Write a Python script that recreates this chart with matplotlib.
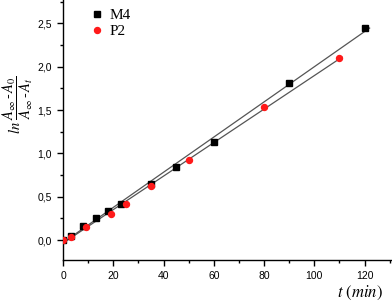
import matplotlib
matplotlib.use("Agg")
import matplotlib.pyplot as plt
import numpy as np
from matplotlib.ticker import MultipleLocator, FuncFormatter

m4_t = [0, 3, 8, 13, 18, 23, 35, 45, 60, 90, 120]
m4_y = [0.0, 0.05, 0.16, 0.25, 0.34, 0.42, 0.65, 0.84, 1.13, 1.81, 2.45]
p2_t = [0, 3, 9, 19, 25, 35, 50, 80, 110]
p2_y = [0.0, 0.04, 0.15, 0.30, 0.42, 0.62, 0.92, 1.53, 2.10]
labels = ["M4", "P2"]

plt.rcParams['mathtext.fontset'] = 'stix'
fig = plt.figure(figsize=(3.92, 3.02), dpi=100)
ax = fig.add_axes([63/392, 42/302, 328/392, 260/302])

for t, y, ext in [(m4_t, m4_y, 122), (p2_t, p2_y, 111)]:
    k, b = np.polyfit(t, y, 1)
    xs = np.array([0, ext])
    ax.plot(xs, k*xs + b, color='#555555', lw=0.9, zorder=1)

ax.plot(m4_t, m4_y, 's', color='black', ms=4, label=labels[0], zorder=3, linestyle='none')
ax.plot(p2_t, p2_y, 'o', color='#ff1a1a', ms=4.3, label=labels[1], zorder=3, linestyle='none')

ax.set_xlim(0, 130.5)
ax.set_ylim(-0.23, 2.77)
for s in ['top', 'right']:
    ax.spines[s].set_visible(False)
for s in ['left', 'bottom']:
    ax.spines[s].set_linewidth(1.0)
ax.xaxis.set_major_locator(MultipleLocator(20))
ax.xaxis.set_minor_locator(MultipleLocator(10))
ax.yaxis.set_major_locator(MultipleLocator(0.5))
ax.yaxis.set_minor_locator(MultipleLocator(0.25))
ax.yaxis.set_major_formatter(FuncFormatter(lambda v, p: f"{v:.1f}".replace('.', ',')))
ax.tick_params(which='major', length=4, width=1, direction='out', labelsize=7.5, pad=4)
ax.tick_params(which='minor', length=2, width=1, direction='out')
for lab in ax.get_xticklabels() + ax.get_yticklabels():
    lab.set_fontfamily('Liberation Sans')

ax.legend(loc='upper left', bbox_to_anchor=(0.038, 1.02), frameon=False,
          prop={'family': 'Liberation Serif', 'size': 11}, handletextpad=0.35,
          labelspacing=0.15, handlelength=1.0)

fig.text(18/392, 1 - 105/302, r'$ln\;\dfrac{A_{\infty}\,\text{-}\,A_0}{A_{\infty}\,\text{-}\,A_t}$',
         rotation=90, ha='center', va='center', fontsize=10.5)
fig.text(360/392, 1 - 293/302, r'$t\ (min)$', ha='center', va='center', fontsize=12)

fig.savefig("out.png", dpi=100)
